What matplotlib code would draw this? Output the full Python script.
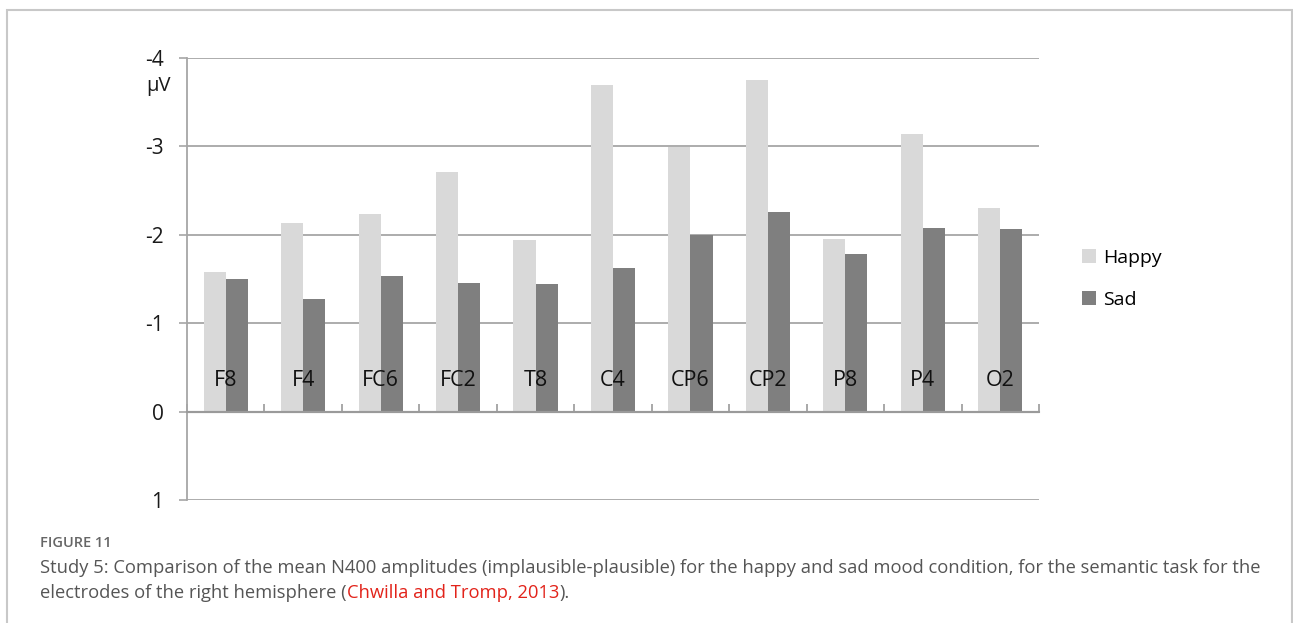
import numpy as np
import matplotlib.pyplot as plt
from matplotlib.patches import Rectangle

# data (µV, negative is up)
electrodes = ["F8", "F4", "FC6", "FC2", "T8", "C4", "CP6", "CP2", "P8", "P4", "O2"]
happy = [-1.58, -2.13, -2.23, -2.71, -1.94, -3.69, -2.99, -3.75, -1.95, -3.14, -2.30]
sad = [-1.50, -1.27, -1.53, -1.46, -1.44, -1.62, -2.00, -2.26, -1.78, -2.08, -2.07]
y_ticks = [-4, -3, -2, -1, 0, 1]

W, H = 1293, 623
plt.rcParams['font.family'] = ['Open Sans', 'DejaVu Sans']

fig = plt.figure(figsize=(W / 100, H / 100), dpi=100)
ax = fig.add_axes([187 / W, 1 - 500 / H, (1039 - 187) / W, (500 - 58) / H])

x = np.arange(len(electrodes))
bw = 0.285
ax.bar(x - bw / 2, happy, bw, color='#d9d9d9', label='Happy', zorder=2)
ax.bar(x + bw / 2, sad, bw, color='#7f7f7f', label='Sad', zorder=2)

ax.set_xlim(-0.5, len(electrodes) - 0.5)
ax.set_ylim(1, -4)

# gridlines
ax.set_yticks(y_ticks)
ax.set_yticklabels([str(t) for t in y_ticks], fontsize=15, color='#1a1a1a')
ax.yaxis.grid(True, color='#a6a6a6', lw=1.3, zorder=0)
ax.axhline(0, color='#9a9a9a', lw=1.5, zorder=3)
ax.tick_params(axis='y', length=6, width=1.2, color='#a6a6a6', pad=11)

# category boundary ticks on the zero line
ax.spines['bottom'].set_position(('data', 0))
ax.spines['bottom'].set_color('#9a9a9a')
ax.spines['bottom'].set_linewidth(1.5)
ax.set_xticks(np.arange(len(electrodes) + 1) - 0.5)
ax.set_xticklabels([])
ax.tick_params(axis='x', direction='in', length=6, width=1.2, color='#9a9a9a')
for s in ['top', 'right']:
    ax.spines[s].set_visible(False)
ax.spines['left'].set_color('#a6a6a6')
ax.spines['left'].set_linewidth(1.3)

for i, name in enumerate(electrodes):
    ax.text(i, -0.35, name, ha='center', va='center', fontsize=15.5,
            color='#111111', zorder=4)

ax.annotate('μV', xy=(0, -4), xycoords=('axes fraction', 'data'),
            xytext=(-12, -13), textcoords='offset points', ha='right',
            va='top', fontsize=14.5, color='#1a1a1a')

ax.legend(loc='center left', bbox_to_anchor=(1072 / W, 1 - 279 / H),
          bbox_transform=fig.transFigure, frameon=False, fontsize=14,
          handlelength=0.75, handleheight=0.75, handletextpad=0.35,
          labelspacing=1.25, borderpad=0)

# page border and caption
fig.add_artist(Rectangle((7 / W, -0.1), (1292 - 7) / W, (H - 10) / H + 0.1,
                         transform=fig.transFigure, fill=False,
                         edgecolor='#c8c8c8', lw=1.5))

cap_color = '#555555'
fig.text(40 / W, 1 - 543 / H, 'FIGURE 11', fontsize=10.5, color='#666666',
         fontweight='semibold', va='center')
fig.text(40 / W, 1 - 568 / H,
         'Study 5: Comparison of the mean N400 amplitudes (implausible-plausible) '
         'for the happy and sad mood condition, for the semantic task for the',
         fontsize=13.2, color=cap_color, va='center')

renderer = fig.canvas.get_renderer()
parts = [('electrodes of the right hemisphere (', cap_color),
         ('Chwilla and Tromp, 2013', '#e2231a'),
         (').', cap_color)]
xpos = 40
for txt, col in parts:
    t = fig.text(xpos / W, 1 - 593 / H, txt, fontsize=13.2, color=col, va='center')
    xpos = t.get_window_extent(renderer).x1

fig.savefig('out.png', dpi=100)
